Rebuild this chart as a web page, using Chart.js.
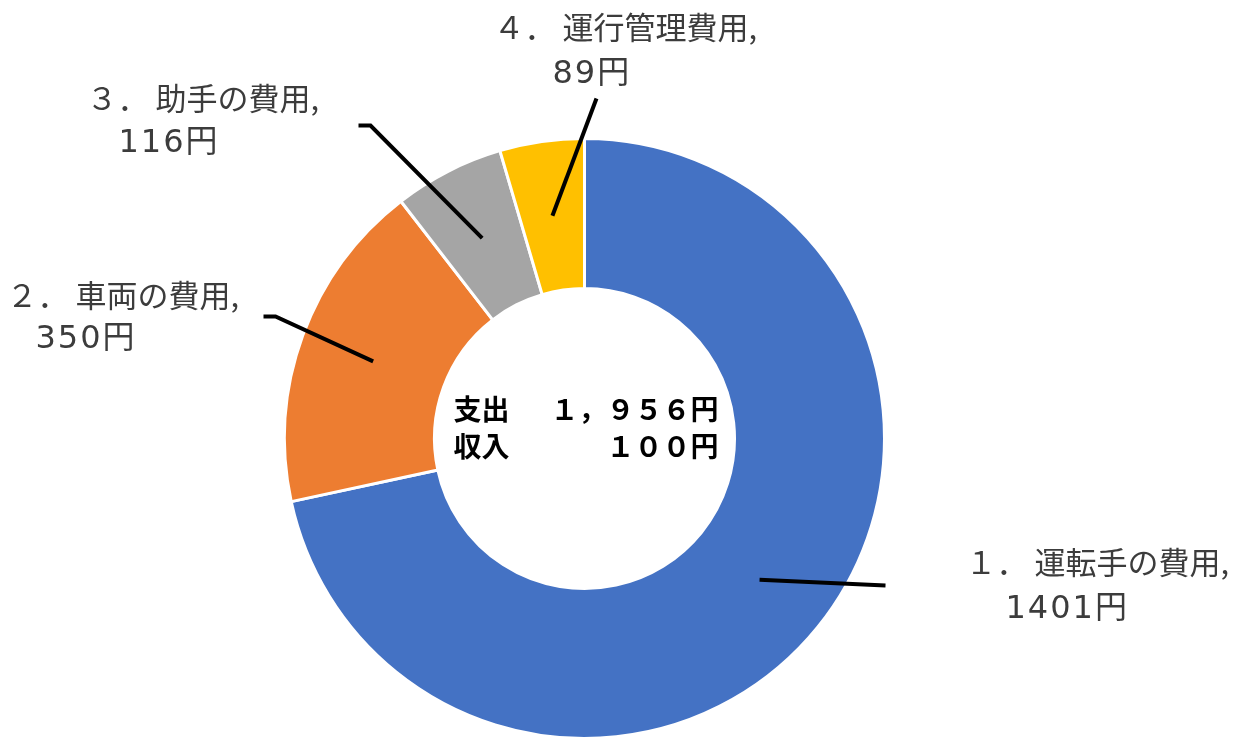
<!DOCTYPE html>
<html>
<head>
<meta charset="utf-8">
<script src="https://cdn.jsdelivr.net/npm/chart.js@4/dist/chart.umd.min.js"></script>
<style>
  body { margin: 0; background: #fff; }
  #wrap { width: 1241px; height: 740px; position: relative; }
</style>
</head>
<body>
<div id="wrap"><canvas id="chart1"></canvas></div>
<script>
// data
const categories = ["１． 運転手の費用", "２． 車両の費用", "３． 助手の費用", "４． 運行管理費用"];
const costs = [1401, 350, 116, 89];
const colors = ["#4472C4", "#ED7D31", "#A5A5A5", "#FFC000"];
const centerLines = [["支出", "１，９５６円"], ["収入", "１００円"]];

// label layout, relative to the doughnut centre (px)
// leader: [x, y] points after the slice centroid
const leaders = [
    [[301, 147]],
    [[-309, -122], [-321, -122]],
    [[-214, -313], [-226, -313]],
    [[12, -340]]
];
// text: [x1, y1, x2, y2] left edge / middle of the two lines
const labelPos = [
    [381, 124, 421, 171],
    [-578, -143, -549, -99],
    [-498, -340, -466, -295],
    [-91, -411, -32, -364]
];

const labelPlugin = {
    id: "labels",
    afterDatasetsDraw(chart) {
        const ctx = chart.ctx;
        const meta = chart.getDatasetMeta(0);
        const cx = meta.data[0].x, cy = meta.data[0].y;
        ctx.save();
        // leader lines
        ctx.strokeStyle = "#000000";
        ctx.lineWidth = 4;
        meta.data.forEach((arc, i) => {
            const p = arc.tooltipPosition();
            ctx.beginPath();
            ctx.moveTo(p.x, p.y);
            leaders[i].forEach(pt => ctx.lineTo(cx + pt[0], cy + pt[1]));
            ctx.stroke();
        });
        // data labels
        ctx.fillStyle = "#3c3c3c";
        ctx.textAlign = "left";
        ctx.textBaseline = "middle";
        categories.forEach((c, i) => {
            const lp = labelPos[i];
            ctx.font = "31px 'Noto Sans CJK JP'";
            ctx.letterSpacing = "0px";
            ctx.fillText(c + ",", cx + lp[0], cy + lp[1]);
            ctx.font = "32px 'DejaVu Sans', 'Noto Sans CJK JP'";
            ctx.letterSpacing = "2px";
            ctx.fillText(costs[i] + "円", cx + lp[2], cy + lp[3]);
        });
        ctx.letterSpacing = "0px";
        // centre text
        ctx.fillStyle = "#000000";
        ctx.font = "bold 28px 'Noto Sans CJK JP'";
        centerLines.forEach((ln, i) => {
            const y = cy - 29 + i * 37;
            ctx.textAlign = "left";
            ctx.fillText(ln[0], cx - 131, y);
            ctx.textAlign = "right";
            ctx.fillText(ln[1], cx + 134, y);
        });
        ctx.restore();
    }
};

const chart1 = document.getElementById("chart1");
var stat1 = new Chart(chart1, {
    type: "doughnut",
    data: {
        labels: categories,
        datasets: [{
            data: costs,
            backgroundColor: colors,
            borderColor: "#ffffff",
            borderWidth: 3
        }]
    },
    options: {
        responsive: true,
        maintainAspectRatio: false,
        animation: false,
        cutout: "50%",
        layout: { padding: { left: 281, right: 353, top: 137, bottom: -4 } },
        plugins: {
            legend: { display: false },
            tooltip: { enabled: false }
        }
    },
    plugins: [labelPlugin]
});
</script>
</body>
</html>
